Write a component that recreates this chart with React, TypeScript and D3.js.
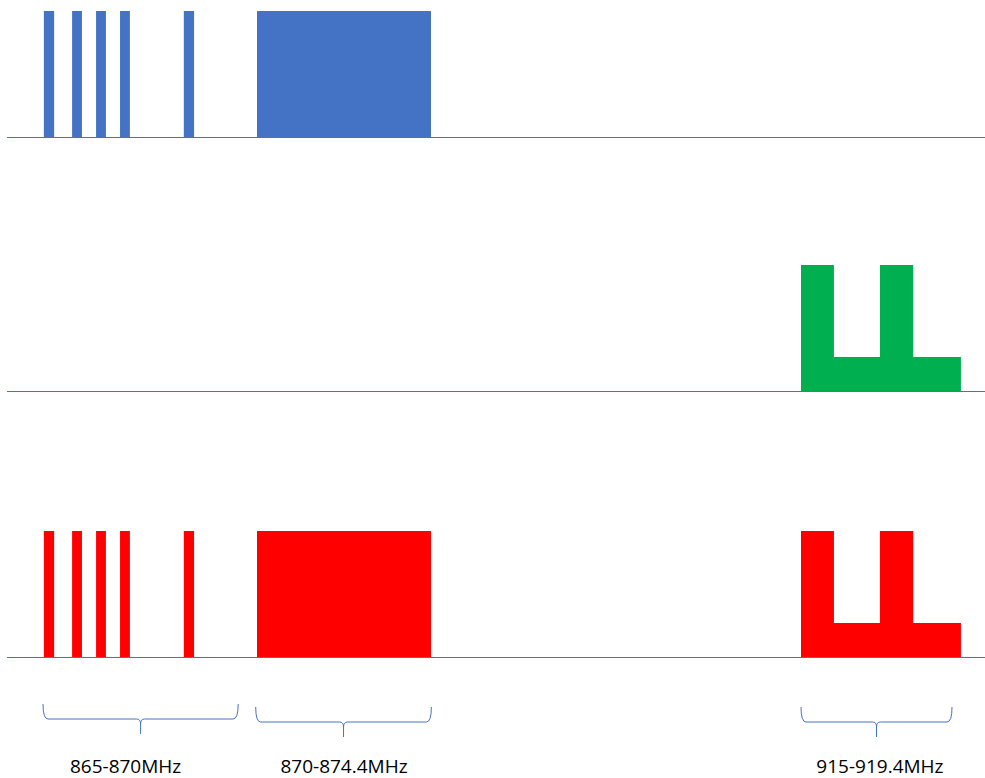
import React from 'react';
import * as d3 from 'd3';

// channel edges in MHz
const narrowBands: [number, number][] = [
  [865.02, 865.26],
  [865.68, 865.91],
  [866.24, 866.47],
  [866.8, 867.03],
  [868.29, 868.53],
];
const wideBand: [number, number] = [870, 874.4];

// 915 MHz group: [start, end, relative height]
const upperBands: [number, number, number][] = [
  [915, 919.66, 0.27],
  [915, 915.96, 1],
  [917.3, 918.27, 1],
];

const braces = [
  { from: 865, to: 869.56, label: '865-870MHz', labelAt: 866.93, drop: 0 },
  { from: 869.97, to: 874.44, label: '870-874.4MHz', labelAt: 872.2, drop: 3 },
  { from: 915, to: 919.4, label: '915-919.4MHz', labelAt: 917.3, drop: 3 },
];

const BLUE = '#4472C4';
const GREEN = '#00B050';
const RED = '#FF0000';

const width = 985;
const height = 778;

const App: React.FC = () => {
  // broken frequency axis: each band gets its own stretch
  const x = d3
    .scaleLinear()
    .domain([865, 870, 874.4, 915, 919.4])
    .range([43, 257, 431, 801, 952]);

  const panels = [
    { base: 137, narrow: BLUE, upper: null as string | null },
    { base: 391, narrow: null as string | null, upper: GREEN },
    { base: 657, narrow: RED, upper: RED },
  ];

  const bracePath = (x0: number, x1: number, y0: number) => {
    const ym = y0 + 15;
    const yb = y0 + 30;
    const xt = (x0 + x1) / 2;
    return (
      `M${x0},${y0} Q${x0},${ym} ${x0 + 5},${ym} L${xt - 4},${ym} Q${xt},${ym} ${xt},${ym + 5} L${xt},${yb} ` +
      `M${xt},${ym + 5} Q${xt},${ym} ${xt + 4},${ym} L${x1 - 5},${ym} Q${x1},${ym} ${x1},${y0}`
    );
  };

  return (
    <svg width={width} height={height} style={{ position: 'absolute', left: 0, top: 0, background: '#fff' }}>
      {panels.map((p, i) => {
        const y = d3.scaleLinear().domain([0, 1]).range([p.base, p.base - 126]);
        return (
          <g key={i}>
            {p.narrow &&
              [...narrowBands, wideBand].map((b, j) => (
                <rect
                  key={j}
                  x={x(b[0])}
                  y={y(1)}
                  width={x(b[1]) - x(b[0])}
                  height={y(0) - y(1)}
                  fill={p.narrow as string}
                />
              ))}
            {p.upper &&
              upperBands.map((b, j) => (
                <rect
                  key={'u' + j}
                  x={x(b[0])}
                  y={y(b[2])}
                  width={x(b[1]) - x(b[0])}
                  height={y(0) - y(b[2])}
                  fill={p.upper as string}
                />
              ))}
            <line x1={7} x2={985} y1={p.base + 0.5} y2={p.base + 0.5} stroke={BLUE} strokeWidth={1.2} />
          </g>
        );
      })}
      {braces.map((b, i) => {
        const x0 = x(b.from);
        const x1 = x(b.to);
        return (
          <g key={i}>
            <path d={bracePath(x0, x1, 704 + b.drop)} fill="none" stroke={BLUE} strokeWidth={1} />
            <text
              x={x(b.labelAt)}
              y={773}
              textAnchor="middle"
              fontFamily="'Open Sans', sans-serif"
              fontSize={19}
              fill="#000"
            >
              {b.label}
            </text>
          </g>
        );
      })}
    </svg>
  );
};

export default App;
